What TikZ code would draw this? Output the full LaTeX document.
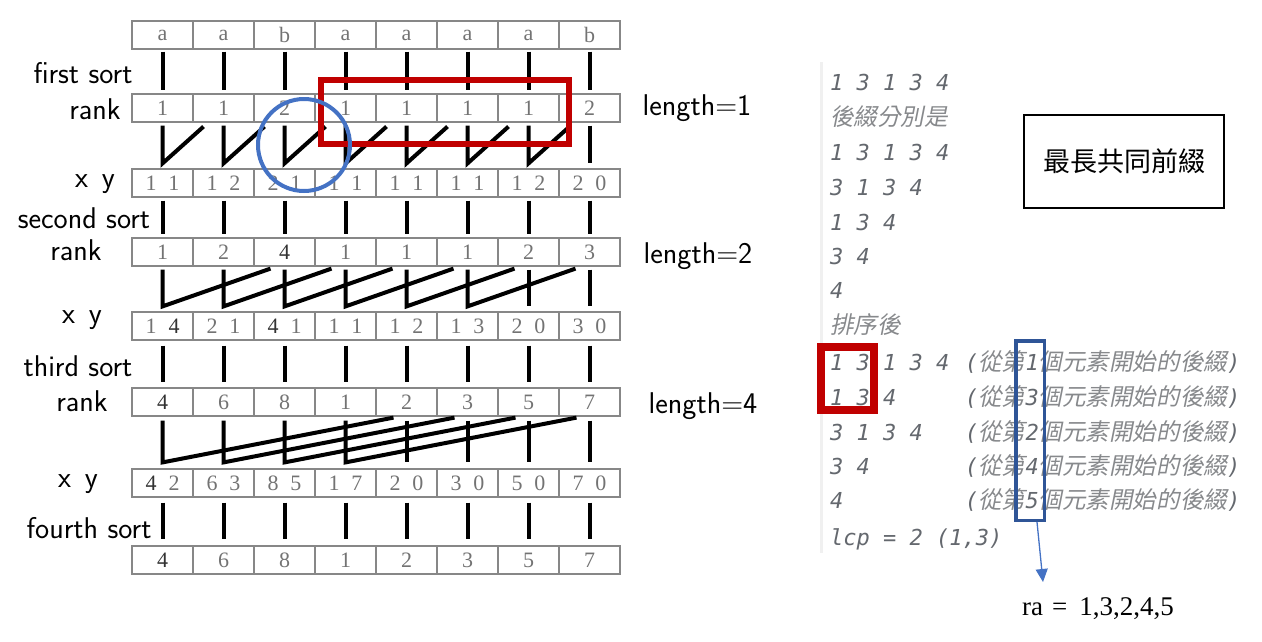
\documentclass[tikz,border=0pt]{standalone}
\usepackage{fontspec}
\usetikzlibrary{arrows.meta}
\newfontfamily\monofam{DejaVu Sans Mono}
\newfontfamily\cjkit{Noto Sans CJK TC}[FakeSlant=0.2,Scale=1.07]
\newfontfamily\cjkup{Noto Sans CJK TC}
\newfontfamily\serifx{Liberation Serif}
\definecolor{cellline}{RGB}{135,135,135}
\definecolor{celltext}{RGB}{115,115,115}
\definecolor{txtgray}{RGB}{100,104,110}
\definecolor{cjkgray}{RGB}{135,137,140}
\definecolor{redbox}{RGB}{192,0,0}
\definecolor{bluec}{RGB}{68,114,196}
\definecolor{navyc}{RGB}{47,85,151}
\newcommand{\dk}[1]{\textcolor{black!80}{#1}}
\newcommand{\pr}[2]{#1\hspace{12pt}#2}
\newcommand{\mi}{\monofam\itshape\color{txtgray}}
\newcommand{\ci}{\cjkit\color{cjkgray}}
\begin{document}
\begin{tikzpicture}[x=1pt,y=-1pt,
  cell/.style={draw=cellline, line width=1.2pt, minimum width=61pt, minimum height=28pt,
    inner sep=0pt, font=\serifx\fontsize{22}{22}\selectfont, text=celltext},
  link/.style={line width=4pt, line join=miter},
  hand/.style={font=\sffamily\fontsize{30}{30}\selectfont, inner sep=0pt},
  code/.style={anchor=base west, inner sep=0pt, font=\fontsize{22}{22}\selectfont}]
\useasboundingbox (0,0) rectangle (1262,641);

% ---- rows of cells ----
\foreach \t [count=\c] in {a,a,b,a,a,a,a,b}
  \node[cell] (r1c\c) at ({132+61*(\c-0.5)},35) {\t};
\foreach \t [count=\c] in {1,1,2,1,1,1,1,2}
  \node[cell] (r2c\c) at ({132+61*(\c-0.5)},108) {\t};
\foreach \t [count=\c] in {{\pr11},{\pr12},{\pr21},{\pr11},{\pr11},{\pr11},{\pr12},{\pr20}}
  \node[cell] (r3c\c) at ({132+61*(\c-0.5)},183) {\t};
\foreach \t [count=\c] in {1,2,{\dk{4}},1,1,1,2,3}
  \node[cell] (r4c\c) at ({132+61*(\c-0.5)},252) {\t};
\foreach \t [count=\c] in {{\pr1{\dk4}},{\pr21},{\pr{\dk4}1},{\pr11},{\pr12},{\pr13},{\pr20},{\pr30}}
  \node[cell] (r5c\c) at ({132+61*(\c-0.5)},326) {\t};
\foreach \t [count=\c] in {{\dk{4}},6,8,1,2,3,5,7}
  \node[cell] (r6c\c) at ({132+61*(\c-0.5)},402) {\t};
\foreach \t [count=\c] in {{\pr{\dk4}2},{\pr63},{\pr85},{\pr17},{\pr20},{\pr30},{\pr50},{\pr70}}
  \node[cell] (r7c\c) at ({132+61*(\c-0.5)},483) {\t};
\foreach \t [count=\c] in {{\dk{4}},6,8,1,2,3,5,7}
  \node[cell] (r8c\c) at ({132+61*(\c-0.5)},560) {\t};

% ---- connectors ----
\foreach \c in {1,...,8}
  \draw[link] ([yshift=-2pt]r1c\c.south) -- ([yshift=3pt]r2c\c.north);
\foreach \c in {1,...,7}
  \draw[link] ([yshift=-3pt]r2c\c.south) -- ([yshift=5pt]r3c\c.north) -- ([xshift=41pt,yshift=-4pt]r2c\c.south);
\draw[link] ([yshift=-3pt]r2c8.south) -- ([yshift=5pt]r3c8.north);
\foreach \c in {1,...,8}
  \draw[link] ([yshift=-3pt]r3c\c.south) -- ([yshift=3pt]r4c\c.north);
\foreach \c in {1,...,6}
  \draw[link] ([yshift=-3pt]r4c\c.south) -- ([yshift=5pt]r5c\c.north) -- ([xshift=108pt,yshift=-2pt]r4c\c.south);
\foreach \c in {7,8}
  \draw[link] ([yshift=-3pt]r4c\c.south) -- ([yshift=5pt]r5c\c.north);
\foreach \c in {1,...,8}
  \draw[link] ([yshift=-5pt]r5c\c.south) -- ([yshift=5pt]r6c\c.north);
\foreach \c in {1,...,4}
  \draw[link] ([yshift=-4pt]r6c\c.south) -- ([yshift=6pt]r7c\c.north) -- ([xshift=231pt,yshift=-1pt]r6c\c.south);
\foreach \c in {5,...,8}
  \draw[link] ([yshift=-4pt]r6c\c.south) -- ([yshift=6pt]r7c\c.north);
\foreach \c in {1,...,8}
  \draw[link] ([yshift=-5pt]r7c\c.south) -- ([yshift=6pt]r8c\c.north);

% ---- handwritten labels ----
\node[hand] (lab1) at (83,73) {first sort};
\node[hand] (lab2) at (95,109) {rank};
\node[hand] (lab3) at (95,184) {x\hspace{14pt}y};
\node[hand] (lab4) at (84,218) {second sort};
\node[hand] (lab5) at (76,250) {rank};
\node[hand] (lab6) at (82,320) {x\hspace{14pt}y};
\node[hand] (lab7) at (78,366) {third sort};
\node[hand] (lab8) at (82,401) {rank};
\node[hand] (lab9) at (78,484) {x\hspace{14pt}y};
\node[hand] (lab10) at (89,528) {fourth sort};
\node[hand] (len1) at (697,108) {length=1};
\node[hand] (len2) at (698,256) {length=2};
\node[hand] (len4) at (703,406) {length=4};

% ---- highlight shapes on the left ----
\node[draw=redbox, line width=6pt, minimum width=248pt, minimum height=64pt, inner sep=0pt] (redA) at (445,112) {};
\node[draw=bluec, line width=4pt, circle, minimum size=92pt, inner sep=0pt] (circA) at (304,145) {};

% ---- right side code block ----
\draw[draw=black!6, line width=3pt] (821,62) -- (821,553);
\node[code] (t1) at (830,90) {\mi 1 3 1 3 4};
\node[code] (t2) at (830,125) {\ci 後綴分別是};
\node[code] (t3) at (830,160) {\mi 1 3 1 3 4};
\node[code] (t4) at (830,195) {\mi 3 1 3 4};
\node[code] (t5) at (830,230) {\mi 1 3 4};
\node[code] (t6) at (830,264) {\mi 3 4};
\node[code] (t7) at (830,298) {\mi 4};
\node[code] (t8) at (830,333) {\ci 排序後};
\node[code] (s1) at (830,370) {\mi 1 3 1 3 4};
\node[code] (s2) at (830,405) {\mi 1 3 4};
\node[code] (s3) at (830,440) {\mi 3 1 3 4};
\node[code] (s4) at (830,474) {\mi 3 4};
\node[code] (s5) at (830,508) {\mi 4};
\foreach \n/\y in {1/370,3/405,2/440,4/474,5/508}
  \node[code] (p\n) at (965,\y) {{\mi (}{\ci 從第}{\mi \n}{\ci 個元素開始的後綴}{\mi )}};
\node[code] (lcp) at (830,545) {\mi lcp = 2 (1,3)};

% ---- box with title ----
\node[draw, line width=2.5pt, minimum width=200pt, minimum height=93pt, inner sep=0pt,
  font=\cjkup\fontsize{27}{27}\selectfont] (title) at (1124,161.5) {最長共同前綴};

% ---- highlight shapes on the right ----
\node[draw=redbox, line width=8pt, minimum width=53pt, minimum height=63pt, inner sep=0pt] (redB) at (847.5,378.5) {};
\node[draw=navyc, line width=3.5pt, minimum width=28.5pt, minimum height=179.5pt, inner sep=0pt] (blueB) at (1030,430.5) {};
\node[anchor=base west, inner sep=0pt, font=\serifx\fontsize{27}{27}\selectfont] (ra) at (1022,615) {ra\hspace{9pt}=\hspace{12pt}1,3,2,4,5};
\coordinate (raTip) at (1043,582);
\draw[bluec, line width=1.3pt, -{Triangle[length=13pt,width=12pt]}] ([xshift=7pt]blueB.south) -- (raTip);
\end{tikzpicture}
\end{document}
